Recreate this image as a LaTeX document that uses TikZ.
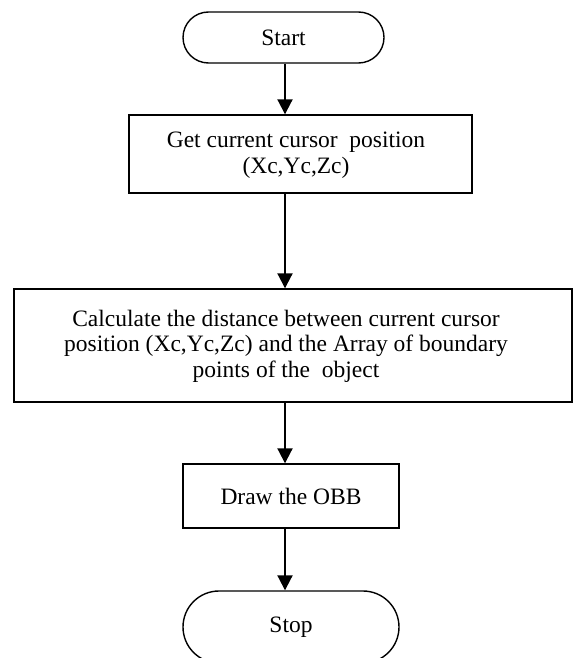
\documentclass[tikz,border=0pt]{standalone}
\usepackage{fontspec}
\setmainfont{Liberation Serif}
\usetikzlibrary{shapes.misc,arrows.meta}
\tikzset{
  txt/.style={font=\fontsize{23.5}{25.5}\selectfont, align=center},
  term/.style={rounded rectangle, draw, line width=1.4pt, inner sep=0pt, txt},
  procbox/.style={rectangle, draw, line width=1.4pt, inner sep=0pt, txt},
  arr/.style={line width=2pt, -{Triangle[length=15pt,width=15pt]}}
}
\begin{document}
\begin{tikzpicture}[x=1pt,y=-1pt]
\useasboundingbox (0,0) rectangle (574,658);
\clip (0,0) rectangle (574,658);
\node[term, minimum width=201pt, minimum height=51pt] (start) at (283.5,37.5) {Start};
\node[procbox, minimum width=343pt, minimum height=78pt] (b1) at (300.5,154) {};
\node[txt] (t1) at (296,155) {Get current cursor\ \ position\\(Xc,Yc,Zc)};
\node[procbox, minimum width=558pt, minimum height=113pt] (b2) at (293,345.5) {};
\node[txt] (t2) at (286,346) {Calculate the distance between current cursor\\position (Xc,Yc,Zc) and the Array of boundary\\points of the\ \ object};
\node[procbox, minimum width=216pt, minimum height=64pt] (b3) at (291,496) {Draw the OBB};
\node[term, minimum width=216pt, minimum height=72pt] (stop) at (291,627) {Stop};
\coordinate (ax) at (285,0);
\draw[arr] (ax |- start.south) -- (ax |- b1.north);
\draw[arr] (ax |- b1.south) -- (ax |- b2.north);
\draw[arr] (ax |- b2.south) -- (ax |- b3.north);
\draw[arr] (ax |- b3.south) -- (ax |- stop.north);
\end{tikzpicture}
\end{document}
